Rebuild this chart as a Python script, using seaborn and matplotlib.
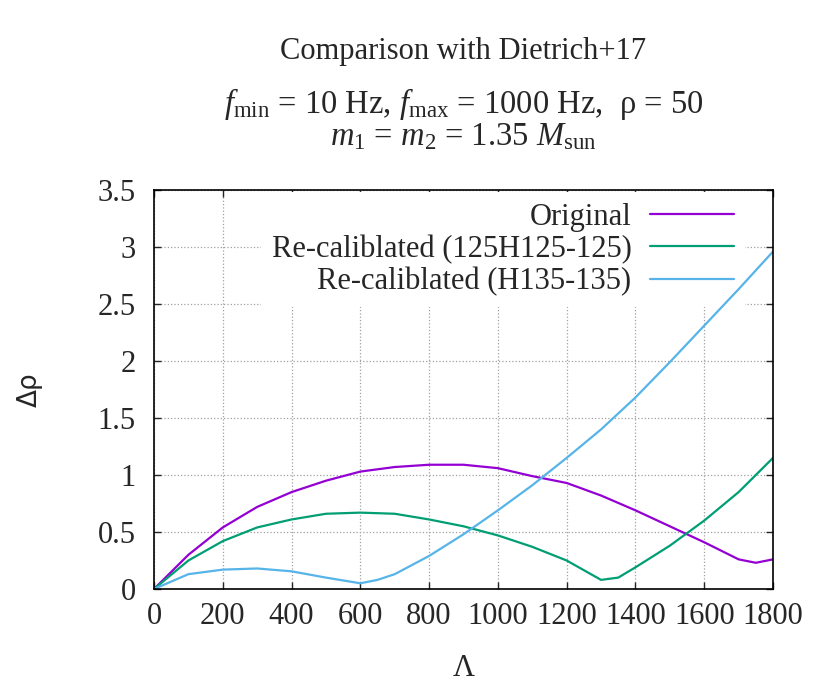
import numpy as np
import pandas as pd
import matplotlib
matplotlib.use("Agg")
import matplotlib.pyplot as plt
import seaborn as sns

# Values
lam_orig = [0, 100, 200, 300, 400, 500, 600, 700, 800, 900, 1000, 1100, 1200,
            1300, 1400, 1500, 1600, 1700, 1750, 1800]
drho_orig = [0.0, 0.30, 0.54, 0.72, 0.85, 0.95, 1.03, 1.07, 1.09, 1.09, 1.06,
             0.99, 0.93, 0.82, 0.69, 0.55, 0.41, 0.26, 0.23, 0.26]

lam_125 = [0, 100, 200, 300, 400, 500, 600, 700, 800, 900, 1000, 1100, 1200,
           1300, 1350, 1400, 1500, 1600, 1700, 1800]
drho_125 = [0.0, 0.25, 0.42, 0.54, 0.61, 0.66, 0.67, 0.66, 0.61, 0.55, 0.47,
            0.37, 0.25, 0.08, 0.10, 0.19, 0.38, 0.60, 0.85, 1.15]

lam_135 = [0, 100, 200, 300, 400, 500, 600, 650, 700, 800, 900, 1000, 1100,
           1200, 1300, 1400, 1500, 1600, 1700, 1800]
drho_135 = [0.0, 0.13, 0.17, 0.18, 0.155, 0.10, 0.05, 0.08, 0.13, 0.29, 0.48,
            0.69, 0.91, 1.15, 1.40, 1.68, 1.99, 2.31, 2.63, 2.96]

labels = ["Original", "Re-caliblated (125H125-125)", "Re-caliblated (H135-135)"]
colors = ["#9400D3", "#009E73", "#56B4E9"]

df = pd.concat([
    pd.DataFrame({"lam": lam_orig, "drho": drho_orig, "model": labels[0]}),
    pd.DataFrame({"lam": lam_125, "drho": drho_125, "model": labels[1]}),
    pd.DataFrame({"lam": lam_135, "drho": drho_135, "model": labels[2]}),
])

sns.set_style("ticks")
plt.rcParams["font.family"] = ["Liberation Serif", "DejaVu Serif"]
plt.rcParams["mathtext.fontset"] = "custom"
plt.rcParams["mathtext.rm"] = "Liberation Serif"
plt.rcParams["mathtext.it"] = "Liberation Serif:italic"

W, H = 830, 691
fig = plt.figure(figsize=(W / 100, H / 100), dpi=100)
# axes box: left 154, right 773, top 190, bottom 589 (pixels)
ax = fig.add_axes([154 / W, 1 - 589 / H, (773 - 154) / W, (589 - 190) / H])

sns.lineplot(data=df, x="lam", y="drho", hue="model", hue_order=labels,
             palette=colors, linewidth=1.6, ax=ax, estimator=None, sort=False)
# curves stay above the opaque key box
for line in ax.get_lines():
    line.set_zorder(6)

ax.set_xlim(0, 1800)
ax.set_ylim(0, 3.5)
ax.set_xticks(np.arange(0, 1801, 200))
ax.set_yticks(np.arange(0, 3.51, 0.5))
ax.set_yticklabels(["0", "0.5", "1", "1.5", "2", "2.5", "3", "3.5"])
ax.tick_params(direction="in", top=True, right=True, length=5, width=1,
               labelsize=22)
ax.tick_params(axis="x", pad=9)
ax.tick_params(axis="y", pad=13)
ax.grid(True, color="#a0a0a0", linestyle=":", linewidth=0.9)
for s in ax.spines.values():
    s.set_linewidth(1.2)
    s.set_color("black")
    s.set_zorder(7)

ax.set_xlabel("Λ", fontsize=22)
ax.xaxis.set_label_coords(0.5, (589 - 669) / 399)
ax.xaxis.label.set_va("center")
ax.set_ylabel("Δρ", fontsize=19, family="DejaVu Sans")
ax.yaxis.set_label_coords((30 - 154) / 619, 0.5)
ax.yaxis.label.set_va("center")

leg = ax.legend(loc="upper right", bbox_to_anchor=(0.955, 0.995),
                borderaxespad=0, markerfirst=False, fontsize=22,
                handlelength=2.75, handletextpad=0.62, labelspacing=0.1,
                borderpad=0.35, frameon=True, fancybox=False, framealpha=1)
leg.get_frame().set_edgecolor("none")
leg.get_frame().set_facecolor("white")
for line in leg.get_lines():
    line.set_linewidth(1.6)
for t in leg.get_texts():
    t.set_ha("right")
leg._legend_box.align = "right"

xc = (154 + 773) / 2 / W
fig.text(xc, 1 - 59 / H, "Comparison with Dietrich+17", ha="center",
         va="baseline", fontsize=22)
fig.text(xc, 1 - 113 / H,
         r"$f_{\rm min}$ = 10 Hz, $f_{\rm max}$ = 1000 Hz,  ρ = 50",
         ha="center", va="baseline", fontsize=23.5)
fig.text(xc, 1 - 145 / H, r"$m_1$ = $m_2$ = 1.35 $M_{\rm sun}$",
         ha="center", va="baseline", fontsize=23.5)

plt.savefig("out.png", dpi=100)
plt.close()
